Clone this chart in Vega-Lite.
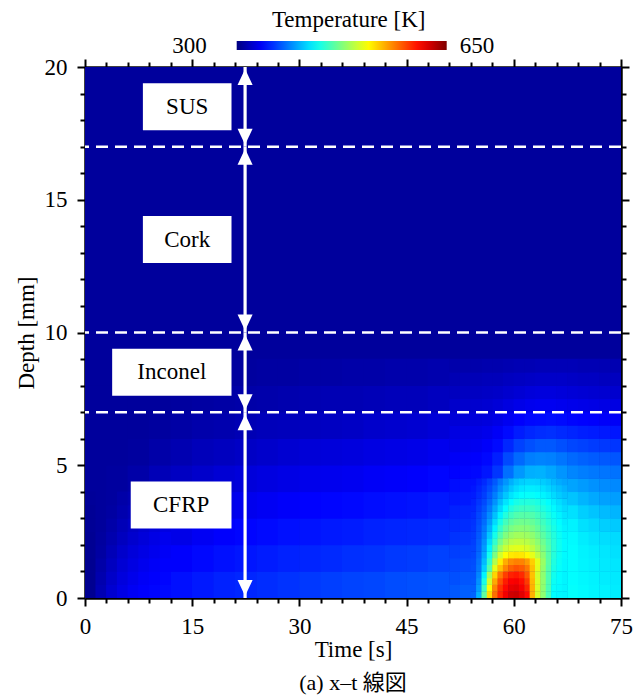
{
"$schema": "https://vega.github.io/schema/vega-lite/v6.json",
"width": 536, "height": 531,
"autosize": "none",
"padding": {"left": 85, "top": 67, "right": 23, "bottom": 102},
"background": "white",
"config": {
 "view": {"stroke": null},
 "axis": {"domainColor": "black", "domainWidth": 2.5, "tickColor": "black", "tickWidth": 2, "labelFont": "Liberation Serif", "labelFontSize": 23, "labelColor": "black", "titleFont": "Liberation Serif", "titleFontSize": 23, "titleFontWeight": "normal", "titleColor": "black", "grid": false, "labelOverlap": false, "labelFlush": false}
},
"title": {"text": "(a) x–t 線図", "orient": "bottom", "font": "Liberation Serif, Noto Sans CJK JP", "fontSize": 22, "fontWeight": "normal", "color": "black", "offset": 12, "anchor": "middle"},
"datasets": {
 "base": [{"t0":0,"t1":75,"z0":0,"z1":20,"K":310}],
 "coarse": [
{"t":1.5,"z":0.5,"K":312},{"t":4.5,"z":0.5,"K":332},{"t":7.5,"z":0.5,"K":342},{"t":10.5,"z":0.5,"K":346},{"t":13.5,"z":0.5,"K":349},{"t":16.5,"z":0.5,"K":352},{"t":19.5,"z":0.5,"K":355},{"t":22.5,"z":0.5,"K":357},{"t":25.5,"z":0.5,"K":359},{"t":28.5,"z":0.5,"K":361},{"t":31.5,"z":0.5,"K":363},{"t":34.5,"z":0.5,"K":365},{"t":37.5,"z":0.5,"K":367},{"t":40.5,"z":0.5,"K":368},{"t":43.5,"z":0.5,"K":370},{"t":46.5,"z":0.5,"K":371},{"t":49.5,"z":0.5,"K":372},
{"t":1.5,"z":1.5,"K":310},{"t":4.5,"z":1.5,"K":324},{"t":7.5,"z":1.5,"K":334},{"t":10.5,"z":1.5,"K":339},{"t":13.5,"z":1.5,"K":343},{"t":16.5,"z":1.5,"K":346},{"t":19.5,"z":1.5,"K":349},{"t":22.5,"z":1.5,"K":351},{"t":25.5,"z":1.5,"K":353},{"t":28.5,"z":1.5,"K":355},{"t":31.5,"z":1.5,"K":356},{"t":34.5,"z":1.5,"K":358},{"t":37.5,"z":1.5,"K":360},{"t":40.5,"z":1.5,"K":361},{"t":43.5,"z":1.5,"K":363},{"t":46.5,"z":1.5,"K":364},{"t":49.5,"z":1.5,"K":366},
{"t":1.5,"z":2.5,"K":310},{"t":4.5,"z":2.5,"K":317},{"t":7.5,"z":2.5,"K":326},{"t":10.5,"z":2.5,"K":332},{"t":13.5,"z":2.5,"K":336},{"t":16.5,"z":2.5,"K":340},{"t":19.5,"z":2.5,"K":343},{"t":22.5,"z":2.5,"K":345},{"t":25.5,"z":2.5,"K":347},{"t":28.5,"z":2.5,"K":349},{"t":31.5,"z":2.5,"K":350},{"t":34.5,"z":2.5,"K":352},{"t":37.5,"z":2.5,"K":353},{"t":40.5,"z":2.5,"K":355},{"t":43.5,"z":2.5,"K":356},{"t":46.5,"z":2.5,"K":357},{"t":49.5,"z":2.5,"K":358},
{"t":1.5,"z":3.5,"K":310},{"t":4.5,"z":3.5,"K":313},{"t":7.5,"z":3.5,"K":319},{"t":10.5,"z":3.5,"K":325},{"t":13.5,"z":3.5,"K":329},{"t":16.5,"z":3.5,"K":333},{"t":19.5,"z":3.5,"K":336},{"t":22.5,"z":3.5,"K":338},{"t":25.5,"z":3.5,"K":340},{"t":28.5,"z":3.5,"K":342},{"t":31.5,"z":3.5,"K":344},{"t":34.5,"z":3.5,"K":345},{"t":37.5,"z":3.5,"K":346},{"t":40.5,"z":3.5,"K":348},{"t":43.5,"z":3.5,"K":349},{"t":46.5,"z":3.5,"K":350},{"t":49.5,"z":3.5,"K":352},
{"t":1.5,"z":4.5,"K":310},{"t":4.5,"z":4.5,"K":311},{"t":7.5,"z":4.5,"K":314},{"t":10.5,"z":4.5,"K":319},{"t":13.5,"z":4.5,"K":323},{"t":16.5,"z":4.5,"K":326},{"t":19.5,"z":4.5,"K":329},{"t":22.5,"z":4.5,"K":331},{"t":25.5,"z":4.5,"K":333},{"t":28.5,"z":4.5,"K":335},{"t":31.5,"z":4.5,"K":337},{"t":34.5,"z":4.5,"K":338},{"t":37.5,"z":4.5,"K":339},{"t":40.5,"z":4.5,"K":341},{"t":43.5,"z":4.5,"K":342},{"t":46.5,"z":4.5,"K":343},{"t":49.5,"z":4.5,"K":345},
{"t":1.5,"z":5.5,"K":310},{"t":4.5,"z":5.5,"K":310},{"t":7.5,"z":5.5,"K":311},{"t":10.5,"z":5.5,"K":314},{"t":13.5,"z":5.5,"K":317},{"t":16.5,"z":5.5,"K":320},{"t":19.5,"z":5.5,"K":322},{"t":22.5,"z":5.5,"K":324},{"t":25.5,"z":5.5,"K":326},{"t":28.5,"z":5.5,"K":328},{"t":31.5,"z":5.5,"K":330},{"t":34.5,"z":5.5,"K":331},{"t":37.5,"z":5.5,"K":332},{"t":40.5,"z":5.5,"K":334},{"t":43.5,"z":5.5,"K":335},{"t":46.5,"z":5.5,"K":336},{"t":49.5,"z":5.5,"K":338},
{"t":1.5,"z":6.5,"K":310},{"t":4.5,"z":6.5,"K":310},{"t":7.5,"z":6.5,"K":310},{"t":10.5,"z":6.5,"K":311},{"t":13.5,"z":6.5,"K":313},{"t":16.5,"z":6.5,"K":315},{"t":19.5,"z":6.5,"K":316},{"t":22.5,"z":6.5,"K":318},{"t":25.5,"z":6.5,"K":320},{"t":28.5,"z":6.5,"K":321},{"t":31.5,"z":6.5,"K":322},{"t":34.5,"z":6.5,"K":323},{"t":37.5,"z":6.5,"K":324},{"t":40.5,"z":6.5,"K":326},{"t":43.5,"z":6.5,"K":327},{"t":46.5,"z":6.5,"K":328},{"t":49.5,"z":6.5,"K":330},
{"t":1.5,"z":7.5,"K":310},{"t":4.5,"z":7.5,"K":310},{"t":7.5,"z":7.5,"K":310},{"t":10.5,"z":7.5,"K":310},{"t":13.5,"z":7.5,"K":311},{"t":16.5,"z":7.5,"K":312},{"t":19.5,"z":7.5,"K":313},{"t":22.5,"z":7.5,"K":314},{"t":25.5,"z":7.5,"K":315},{"t":28.5,"z":7.5,"K":316},{"t":31.5,"z":7.5,"K":317},{"t":34.5,"z":7.5,"K":318},{"t":37.5,"z":7.5,"K":318},{"t":40.5,"z":7.5,"K":319},{"t":43.5,"z":7.5,"K":320},{"t":46.5,"z":7.5,"K":320},{"t":49.5,"z":7.5,"K":322},
{"t":1.5,"z":8.5,"K":310},{"t":4.5,"z":8.5,"K":310},{"t":7.5,"z":8.5,"K":310},{"t":10.5,"z":8.5,"K":310},{"t":13.5,"z":8.5,"K":310},{"t":16.5,"z":8.5,"K":310},{"t":19.5,"z":8.5,"K":311},{"t":22.5,"z":8.5,"K":311},{"t":25.5,"z":8.5,"K":312},{"t":28.5,"z":8.5,"K":312},{"t":31.5,"z":8.5,"K":313},{"t":34.5,"z":8.5,"K":313},{"t":37.5,"z":8.5,"K":314},{"t":40.5,"z":8.5,"K":314},{"t":43.5,"z":8.5,"K":315},{"t":46.5,"z":8.5,"K":315},{"t":49.5,"z":8.5,"K":316}
 ],
 "mid": [
{"t":0.75,"z":0.25,"K":306},{"t":2.25,"z":0.25,"K":318},{"t":3.75,"z":0.25,"K":328},{"t":5.25,"z":0.25,"K":335},{"t":6.75,"z":0.25,"K":340},{"t":8.25,"z":0.25,"K":343},{"t":9.75,"z":0.25,"K":345},{"t":11.25,"z":0.25,"K":347},
{"t":0.75,"z":0.75,"K":306},{"t":2.25,"z":0.75,"K":316},{"t":3.75,"z":0.75,"K":325},{"t":5.25,"z":0.75,"K":332},{"t":6.75,"z":0.75,"K":337},{"t":8.25,"z":0.75,"K":341},{"t":9.75,"z":0.75,"K":343},{"t":11.25,"z":0.75,"K":345},
{"t":0.75,"z":1.25,"K":306},{"t":2.25,"z":1.25,"K":314},{"t":3.75,"z":1.25,"K":322},{"t":5.25,"z":1.25,"K":329},{"t":6.75,"z":1.25,"K":334},{"t":8.25,"z":1.25,"K":338},{"t":9.75,"z":1.25,"K":341},{"t":11.25,"z":1.25,"K":343},
{"t":0.75,"z":1.75,"K":307},{"t":2.25,"z":1.75,"K":312},{"t":3.75,"z":1.75,"K":319},{"t":5.25,"z":1.75,"K":326},{"t":6.75,"z":1.75,"K":331},{"t":8.25,"z":1.75,"K":335},{"t":9.75,"z":1.75,"K":338},{"t":11.25,"z":1.75,"K":341},
{"t":0.75,"z":2.25,"K":307},{"t":2.25,"z":2.25,"K":311},{"t":3.75,"z":2.25,"K":316},{"t":5.25,"z":2.25,"K":322},{"t":6.75,"z":2.25,"K":327},{"t":8.25,"z":2.25,"K":331},{"t":9.75,"z":2.25,"K":335},{"t":11.25,"z":2.25,"K":338},
{"t":0.75,"z":2.75,"K":308},{"t":2.25,"z":2.75,"K":310},{"t":3.75,"z":2.75,"K":314},{"t":5.25,"z":2.75,"K":319},{"t":6.75,"z":2.75,"K":324},{"t":8.25,"z":2.75,"K":328},{"t":9.75,"z":2.75,"K":331},{"t":11.25,"z":2.75,"K":334},
{"t":0.75,"z":3.25,"K":308},{"t":2.25,"z":3.25,"K":310},{"t":3.75,"z":3.25,"K":312},{"t":5.25,"z":3.25,"K":316},{"t":6.75,"z":3.25,"K":320},{"t":8.25,"z":3.25,"K":324},{"t":9.75,"z":3.25,"K":328},{"t":11.25,"z":3.25,"K":331},
{"t":0.75,"z":3.75,"K":309},{"t":2.25,"z":3.75,"K":310},{"t":3.75,"z":3.75,"K":311},{"t":5.25,"z":3.75,"K":314},{"t":6.75,"z":3.75,"K":317},{"t":8.25,"z":3.75,"K":321},{"t":9.75,"z":3.75,"K":324},{"t":11.25,"z":3.75,"K":327},
{"t":51.75,"z":0.25,"K":374},{"t":53.25,"z":0.25,"K":376},{"t":68.25,"z":0.25,"K":432},{"t":69.75,"z":0.25,"K":430},{"t":71.25,"z":0.25,"K":428},{"t":72.75,"z":0.25,"K":427},{"t":74.25,"z":0.25,"K":425},
{"t":51.75,"z":0.75,"K":371},{"t":53.25,"z":0.75,"K":373},{"t":68.25,"z":0.75,"K":431},{"t":69.75,"z":0.75,"K":429},{"t":71.25,"z":0.75,"K":427},{"t":72.75,"z":0.75,"K":425},{"t":74.25,"z":0.75,"K":424},
{"t":51.75,"z":1.25,"K":368},{"t":53.25,"z":1.25,"K":369},{"t":68.25,"z":1.25,"K":431},{"t":69.75,"z":1.25,"K":428},{"t":71.25,"z":1.25,"K":426},{"t":72.75,"z":1.25,"K":424},{"t":74.25,"z":1.25,"K":423},
{"t":51.75,"z":1.75,"K":365},{"t":53.25,"z":1.75,"K":366},{"t":68.25,"z":1.75,"K":431},{"t":69.75,"z":1.75,"K":427},{"t":71.25,"z":1.75,"K":425},{"t":72.75,"z":1.75,"K":423},{"t":74.25,"z":1.75,"K":421},
{"t":51.75,"z":2.25,"K":361},{"t":53.25,"z":2.25,"K":362},{"t":68.25,"z":2.25,"K":430},{"t":69.75,"z":2.25,"K":425},{"t":71.25,"z":2.25,"K":422},{"t":72.75,"z":2.25,"K":420},{"t":74.25,"z":2.25,"K":419},
{"t":51.75,"z":2.75,"K":358},{"t":53.25,"z":2.75,"K":359},{"t":68.25,"z":2.75,"K":427},{"t":69.75,"z":2.75,"K":421},{"t":71.25,"z":2.75,"K":418},{"t":72.75,"z":2.75,"K":415},{"t":74.25,"z":2.75,"K":413},
{"t":51.75,"z":3.25,"K":355},{"t":53.25,"z":3.25,"K":356},{"t":68.25,"z":3.25,"K":421},{"t":69.75,"z":3.25,"K":415},{"t":71.25,"z":3.25,"K":411},{"t":72.75,"z":3.25,"K":408},{"t":74.25,"z":3.25,"K":406},
{"t":51.75,"z":3.75,"K":351},{"t":53.25,"z":3.75,"K":352},{"t":68.25,"z":3.75,"K":411},{"t":69.75,"z":3.75,"K":406},{"t":71.25,"z":3.75,"K":402},{"t":72.75,"z":3.75,"K":399},{"t":74.25,"z":3.75,"K":398},
{"t":51.75,"z":4.25,"K":348},{"t":53.25,"z":4.25,"K":349},{"t":68.25,"z":4.25,"K":400},{"t":69.75,"z":4.25,"K":397},{"t":71.25,"z":4.25,"K":394},{"t":72.75,"z":4.25,"K":392},{"t":74.25,"z":4.25,"K":391},
{"t":51.75,"z":4.75,"K":344},{"t":53.25,"z":4.75,"K":345},{"t":54.75,"z":4.75,"K":346},{"t":56.25,"z":4.75,"K":351},{"t":57.75,"z":4.75,"K":362},{"t":59.25,"z":4.75,"K":382},{"t":60.75,"z":4.75,"K":396},{"t":62.25,"z":4.75,"K":404},{"t":63.75,"z":4.75,"K":405},{"t":65.25,"z":4.75,"K":401},{"t":66.75,"z":4.75,"K":395},{"t":68.25,"z":4.75,"K":390},{"t":69.75,"z":4.75,"K":387},{"t":71.25,"z":4.75,"K":385},{"t":72.75,"z":4.75,"K":384},{"t":74.25,"z":4.75,"K":383},
{"t":51.75,"z":5.25,"K":341},{"t":53.25,"z":5.25,"K":342},{"t":54.75,"z":5.25,"K":343},{"t":56.25,"z":5.25,"K":346},{"t":57.75,"z":5.25,"K":354},{"t":59.25,"z":5.25,"K":369},{"t":60.75,"z":5.25,"K":380},{"t":62.25,"z":5.25,"K":387},{"t":63.75,"z":5.25,"K":389},{"t":65.25,"z":5.25,"K":388},{"t":66.75,"z":5.25,"K":384},{"t":68.25,"z":5.25,"K":380},{"t":69.75,"z":5.25,"K":377},{"t":71.25,"z":5.25,"K":375},{"t":72.75,"z":5.25,"K":374},{"t":74.25,"z":5.25,"K":373},
{"t":51.75,"z":5.75,"K":337},{"t":53.25,"z":5.75,"K":338},{"t":54.75,"z":5.75,"K":339},{"t":56.25,"z":5.75,"K":342},{"t":57.75,"z":5.75,"K":347},{"t":59.25,"z":5.75,"K":357},{"t":60.75,"z":5.75,"K":366},{"t":62.25,"z":5.75,"K":371},{"t":63.75,"z":5.75,"K":374},{"t":65.25,"z":5.75,"K":374},{"t":66.75,"z":5.75,"K":371},{"t":68.25,"z":5.75,"K":368},{"t":69.75,"z":5.75,"K":366},{"t":71.25,"z":5.75,"K":364},{"t":72.75,"z":5.75,"K":363},{"t":74.25,"z":5.75,"K":362},
{"t":51.75,"z":6.25,"K":334},{"t":53.25,"z":6.25,"K":335},{"t":54.75,"z":6.25,"K":335},{"t":56.25,"z":6.25,"K":337},{"t":57.75,"z":6.25,"K":341},{"t":59.25,"z":6.25,"K":347},{"t":60.75,"z":6.25,"K":353},{"t":62.25,"z":6.25,"K":357},{"t":63.75,"z":6.25,"K":359},{"t":65.25,"z":6.25,"K":360},{"t":66.75,"z":6.25,"K":358},{"t":68.25,"z":6.25,"K":356},{"t":69.75,"z":6.25,"K":354},{"t":71.25,"z":6.25,"K":353},{"t":72.75,"z":6.25,"K":352},{"t":74.25,"z":6.25,"K":351},
{"t":51.75,"z":6.75,"K":330},{"t":53.25,"z":6.75,"K":331},{"t":54.75,"z":6.75,"K":331},{"t":56.25,"z":6.75,"K":332},{"t":57.75,"z":6.75,"K":335},{"t":59.25,"z":6.75,"K":339},{"t":60.75,"z":6.75,"K":343},{"t":62.25,"z":6.75,"K":346},{"t":63.75,"z":6.75,"K":347},{"t":65.25,"z":6.75,"K":348},{"t":66.75,"z":6.75,"K":347},{"t":68.25,"z":6.75,"K":345},{"t":69.75,"z":6.75,"K":344},{"t":71.25,"z":6.75,"K":343},{"t":72.75,"z":6.75,"K":342},{"t":74.25,"z":6.75,"K":341},
{"t":51.75,"z":7.25,"K":326},{"t":53.25,"z":7.25,"K":327},{"t":54.75,"z":7.25,"K":327},{"t":56.25,"z":7.25,"K":328},{"t":57.75,"z":7.25,"K":330},{"t":59.25,"z":7.25,"K":333},{"t":60.75,"z":7.25,"K":336},{"t":62.25,"z":7.25,"K":338},{"t":63.75,"z":7.25,"K":339},{"t":65.25,"z":7.25,"K":339},{"t":66.75,"z":7.25,"K":338},{"t":68.25,"z":7.25,"K":337},{"t":69.75,"z":7.25,"K":336},{"t":71.25,"z":7.25,"K":335},{"t":72.75,"z":7.25,"K":335},{"t":74.25,"z":7.25,"K":334},
{"t":51.75,"z":7.75,"K":322},{"t":53.25,"z":7.75,"K":323},{"t":54.75,"z":7.75,"K":323},{"t":56.25,"z":7.75,"K":324},{"t":57.75,"z":7.75,"K":325},{"t":59.25,"z":7.75,"K":327},{"t":60.75,"z":7.75,"K":329},{"t":62.25,"z":7.75,"K":331},{"t":63.75,"z":7.75,"K":332},{"t":65.25,"z":7.75,"K":332},{"t":66.75,"z":7.75,"K":331},{"t":68.25,"z":7.75,"K":330},{"t":69.75,"z":7.75,"K":329},{"t":71.25,"z":7.75,"K":328},{"t":72.75,"z":7.75,"K":328},{"t":74.25,"z":7.75,"K":327},
{"t":51.75,"z":8.25,"K":318},{"t":53.25,"z":8.25,"K":319},{"t":54.75,"z":8.25,"K":319},{"t":56.25,"z":8.25,"K":320},{"t":57.75,"z":8.25,"K":320},{"t":59.25,"z":8.25,"K":322},{"t":60.75,"z":8.25,"K":323},{"t":62.25,"z":8.25,"K":324},{"t":63.75,"z":8.25,"K":325},{"t":65.25,"z":8.25,"K":325},{"t":66.75,"z":8.25,"K":325},{"t":68.25,"z":8.25,"K":324},{"t":69.75,"z":8.25,"K":323},{"t":71.25,"z":8.25,"K":323},{"t":72.75,"z":8.25,"K":322},{"t":74.25,"z":8.25,"K":322},
{"t":51.75,"z":8.75,"K":315},{"t":53.25,"z":8.75,"K":315},{"t":54.75,"z":8.75,"K":315},{"t":56.25,"z":8.75,"K":316},{"t":57.75,"z":8.75,"K":316},{"t":59.25,"z":8.75,"K":317},{"t":60.75,"z":8.75,"K":318},{"t":62.25,"z":8.75,"K":318},{"t":63.75,"z":8.75,"K":319},{"t":65.25,"z":8.75,"K":319},{"t":66.75,"z":8.75,"K":319},{"t":68.25,"z":8.75,"K":319},{"t":69.75,"z":8.75,"K":318},{"t":71.25,"z":8.75,"K":318},{"t":72.75,"z":8.75,"K":318},{"t":74.25,"z":8.75,"K":317}
 ],
 "fine": [
{"t":54.375,"z":0.125,"K":378},{"t":55.125,"z":0.125,"K":405},{"t":55.875,"z":0.125,"K":464},{"t":56.625,"z":0.125,"K":530},{"t":57.375,"z":0.125,"K":568},{"t":58.125,"z":0.125,"K":594},{"t":58.875,"z":0.125,"K":611},{"t":59.625,"z":0.125,"K":622},{"t":60.375,"z":0.125,"K":624},{"t":61.125,"z":0.125,"K":616},{"t":61.875,"z":0.125,"K":603},{"t":62.625,"z":0.125,"K":545},{"t":63.375,"z":0.125,"K":504},{"t":64.125,"z":0.125,"K":480},{"t":64.875,"z":0.125,"K":456},{"t":65.625,"z":0.125,"K":431},{"t":66.375,"z":0.125,"K":429},{"t":67.125,"z":0.125,"K":428},
{"t":54.375,"z":0.375,"K":376},{"t":55.125,"z":0.375,"K":398},{"t":55.875,"z":0.375,"K":452},{"t":56.625,"z":0.375,"K":518},{"t":57.375,"z":0.375,"K":560},{"t":58.125,"z":0.375,"K":588},{"t":58.875,"z":0.375,"K":604},{"t":59.625,"z":0.375,"K":614},{"t":60.375,"z":0.375,"K":616},{"t":61.125,"z":0.375,"K":609},{"t":61.875,"z":0.375,"K":594},{"t":62.625,"z":0.375,"K":545},{"t":63.375,"z":0.375,"K":505},{"t":64.125,"z":0.375,"K":480},{"t":64.875,"z":0.375,"K":457},{"t":65.625,"z":0.375,"K":433},{"t":66.375,"z":0.375,"K":430},{"t":67.125,"z":0.375,"K":428},
{"t":54.375,"z":0.625,"K":374},{"t":55.125,"z":0.625,"K":394},{"t":55.875,"z":0.625,"K":440},{"t":56.625,"z":0.625,"K":503},{"t":57.375,"z":0.625,"K":548},{"t":58.125,"z":0.625,"K":578},{"t":58.875,"z":0.625,"K":597},{"t":59.625,"z":0.625,"K":607},{"t":60.375,"z":0.625,"K":609},{"t":61.125,"z":0.625,"K":602},{"t":61.875,"z":0.625,"K":586},{"t":62.625,"z":0.625,"K":543},{"t":63.375,"z":0.625,"K":505},{"t":64.125,"z":0.625,"K":481},{"t":64.875,"z":0.625,"K":458},{"t":65.625,"z":0.625,"K":435},{"t":66.375,"z":0.625,"K":431},{"t":67.125,"z":0.625,"K":428},
{"t":54.375,"z":0.875,"K":373},{"t":55.125,"z":0.875,"K":390},{"t":55.875,"z":0.875,"K":428},{"t":56.625,"z":0.875,"K":487},{"t":57.375,"z":0.875,"K":533},{"t":58.125,"z":0.875,"K":565},{"t":58.875,"z":0.875,"K":585},{"t":59.625,"z":0.875,"K":595},{"t":60.375,"z":0.875,"K":598},{"t":61.125,"z":0.875,"K":592},{"t":61.875,"z":0.875,"K":576},{"t":62.625,"z":0.875,"K":540},{"t":63.375,"z":0.875,"K":503},{"t":64.125,"z":0.875,"K":480},{"t":64.875,"z":0.875,"K":458},{"t":65.625,"z":0.875,"K":437},{"t":66.375,"z":0.875,"K":431},{"t":67.125,"z":0.875,"K":428},
{"t":54.375,"z":1.125,"K":371},{"t":55.125,"z":1.125,"K":385},{"t":55.875,"z":1.125,"K":415},{"t":56.625,"z":1.125,"K":460},{"t":57.375,"z":1.125,"K":510},{"t":58.125,"z":1.125,"K":540},{"t":58.875,"z":1.125,"K":560},{"t":59.625,"z":1.125,"K":573},{"t":60.375,"z":1.125,"K":578},{"t":61.125,"z":1.125,"K":575},{"t":61.875,"z":1.125,"K":565},{"t":62.625,"z":1.125,"K":540},{"t":63.375,"z":1.125,"K":508},{"t":64.125,"z":1.125,"K":482},{"t":64.875,"z":1.125,"K":460},{"t":65.625,"z":1.125,"K":440},{"t":66.375,"z":1.125,"K":433},{"t":67.125,"z":1.125,"K":429},
{"t":54.375,"z":1.375,"K":370},{"t":55.125,"z":1.375,"K":383},{"t":55.875,"z":1.375,"K":408},{"t":56.625,"z":1.375,"K":448},{"t":57.375,"z":1.375,"K":492},{"t":58.125,"z":1.375,"K":525},{"t":58.875,"z":1.375,"K":547},{"t":59.625,"z":1.375,"K":558},{"t":60.375,"z":1.375,"K":562},{"t":61.125,"z":1.375,"K":561},{"t":61.875,"z":1.375,"K":553},{"t":62.625,"z":1.375,"K":535},{"t":63.375,"z":1.375,"K":510},{"t":64.125,"z":1.375,"K":484},{"t":64.875,"z":1.375,"K":462},{"t":65.625,"z":1.375,"K":442},{"t":66.375,"z":1.375,"K":434},{"t":67.125,"z":1.375,"K":429},
{"t":54.375,"z":1.625,"K":368},{"t":55.125,"z":1.625,"K":380},{"t":55.875,"z":1.625,"K":402},{"t":56.625,"z":1.625,"K":437},{"t":57.375,"z":1.625,"K":474},{"t":58.125,"z":1.625,"K":503},{"t":58.875,"z":1.625,"K":518},{"t":59.625,"z":1.625,"K":526},{"t":60.375,"z":1.625,"K":528},{"t":61.125,"z":1.625,"K":527},{"t":61.875,"z":1.625,"K":521},{"t":62.625,"z":1.625,"K":510},{"t":63.375,"z":1.625,"K":495},{"t":64.125,"z":1.625,"K":479},{"t":64.875,"z":1.625,"K":461},{"t":65.625,"z":1.625,"K":444},{"t":66.375,"z":1.625,"K":435},{"t":67.125,"z":1.625,"K":430},
{"t":54.375,"z":1.875,"K":367},{"t":55.125,"z":1.875,"K":378},{"t":55.875,"z":1.875,"K":397},{"t":56.625,"z":1.875,"K":428},{"t":57.375,"z":1.875,"K":460},{"t":58.125,"z":1.875,"K":486},{"t":58.875,"z":1.875,"K":500},{"t":59.625,"z":1.875,"K":507},{"t":60.375,"z":1.875,"K":509},{"t":61.125,"z":1.875,"K":509},{"t":61.875,"z":1.875,"K":505},{"t":62.625,"z":1.875,"K":497},{"t":63.375,"z":1.875,"K":486},{"t":64.125,"z":1.875,"K":474},{"t":64.875,"z":1.875,"K":460},{"t":65.625,"z":1.875,"K":445},{"t":66.375,"z":1.875,"K":436},{"t":67.125,"z":1.875,"K":430},
{"t":54.375,"z":2.125,"K":365},{"t":55.125,"z":2.125,"K":376},{"t":55.875,"z":2.125,"K":393},{"t":56.625,"z":2.125,"K":420},{"t":57.375,"z":2.125,"K":448},{"t":58.125,"z":2.125,"K":472},{"t":58.875,"z":2.125,"K":487},{"t":59.625,"z":2.125,"K":494},{"t":60.375,"z":2.125,"K":497},{"t":61.125,"z":2.125,"K":497},{"t":61.875,"z":2.125,"K":494},{"t":62.625,"z":2.125,"K":488},{"t":63.375,"z":2.125,"K":479},{"t":64.125,"z":2.125,"K":469},{"t":64.875,"z":2.125,"K":457},{"t":65.625,"z":2.125,"K":445},{"t":66.375,"z":2.125,"K":436},{"t":67.125,"z":2.125,"K":430},
{"t":54.375,"z":2.375,"K":364},{"t":55.125,"z":2.375,"K":374},{"t":55.875,"z":2.375,"K":389},{"t":56.625,"z":2.375,"K":412},{"t":57.375,"z":2.375,"K":438},{"t":58.125,"z":2.375,"K":460},{"t":58.875,"z":2.375,"K":475},{"t":59.625,"z":2.375,"K":483},{"t":60.375,"z":2.375,"K":487},{"t":61.125,"z":2.375,"K":487},{"t":61.875,"z":2.375,"K":485},{"t":62.625,"z":2.375,"K":480},{"t":63.375,"z":2.375,"K":472},{"t":64.125,"z":2.375,"K":463},{"t":64.875,"z":2.375,"K":453},{"t":65.625,"z":2.375,"K":443},{"t":66.375,"z":2.375,"K":435},{"t":67.125,"z":2.375,"K":429},
{"t":54.375,"z":2.625,"K":362},{"t":55.125,"z":2.625,"K":372},{"t":55.875,"z":2.625,"K":385},{"t":56.625,"z":2.625,"K":405},{"t":57.375,"z":2.625,"K":428},{"t":58.125,"z":2.625,"K":449},{"t":58.875,"z":2.625,"K":464},{"t":59.625,"z":2.625,"K":473},{"t":60.375,"z":2.625,"K":477},{"t":61.125,"z":2.625,"K":478},{"t":61.875,"z":2.625,"K":477},{"t":62.625,"z":2.625,"K":473},{"t":63.375,"z":2.625,"K":466},{"t":64.125,"z":2.625,"K":458},{"t":64.875,"z":2.625,"K":449},{"t":65.625,"z":2.625,"K":440},{"t":66.375,"z":2.625,"K":433},{"t":67.125,"z":2.625,"K":427},
{"t":54.375,"z":2.875,"K":361},{"t":55.125,"z":2.875,"K":370},{"t":55.875,"z":2.875,"K":381},{"t":56.625,"z":2.875,"K":398},{"t":57.375,"z":2.875,"K":419},{"t":58.125,"z":2.875,"K":439},{"t":58.875,"z":2.875,"K":454},{"t":59.625,"z":2.875,"K":463},{"t":60.375,"z":2.875,"K":468},{"t":61.125,"z":2.875,"K":470},{"t":61.875,"z":2.875,"K":469},{"t":62.625,"z":2.875,"K":466},{"t":63.375,"z":2.875,"K":460},{"t":64.125,"z":2.875,"K":453},{"t":64.875,"z":2.875,"K":445},{"t":65.625,"z":2.875,"K":437},{"t":66.375,"z":2.875,"K":431},{"t":67.125,"z":2.875,"K":425},
{"t":54.375,"z":3.125,"K":359},{"t":55.125,"z":3.125,"K":368},{"t":55.875,"z":3.125,"K":377},{"t":56.625,"z":3.125,"K":392},{"t":57.375,"z":3.125,"K":410},{"t":58.125,"z":3.125,"K":428},{"t":58.875,"z":3.125,"K":443},{"t":59.625,"z":3.125,"K":453},{"t":60.375,"z":3.125,"K":459},{"t":61.125,"z":3.125,"K":461},{"t":61.875,"z":3.125,"K":461},{"t":62.625,"z":3.125,"K":459},{"t":63.375,"z":3.125,"K":454},{"t":64.125,"z":3.125,"K":448},{"t":64.875,"z":3.125,"K":441},{"t":65.625,"z":3.125,"K":434},{"t":66.375,"z":3.125,"K":428},{"t":67.125,"z":3.125,"K":422},
{"t":54.375,"z":3.375,"K":357},{"t":55.125,"z":3.375,"K":365},{"t":55.875,"z":3.375,"K":373},{"t":56.625,"z":3.375,"K":386},{"t":57.375,"z":3.375,"K":402},{"t":58.125,"z":3.375,"K":418},{"t":58.875,"z":3.375,"K":432},{"t":59.625,"z":3.375,"K":443},{"t":60.375,"z":3.375,"K":449},{"t":61.125,"z":3.375,"K":452},{"t":61.875,"z":3.375,"K":452},{"t":62.625,"z":3.375,"K":451},{"t":63.375,"z":3.375,"K":447},{"t":64.125,"z":3.375,"K":442},{"t":64.875,"z":3.375,"K":436},{"t":65.625,"z":3.375,"K":430},{"t":66.375,"z":3.375,"K":424},{"t":67.125,"z":3.375,"K":419},
{"t":54.375,"z":3.625,"K":355},{"t":55.125,"z":3.625,"K":362},{"t":55.875,"z":3.625,"K":369},{"t":56.625,"z":3.625,"K":380},{"t":57.375,"z":3.625,"K":394},{"t":58.125,"z":3.625,"K":409},{"t":58.875,"z":3.625,"K":422},{"t":59.625,"z":3.625,"K":432},{"t":60.375,"z":3.625,"K":439},{"t":61.125,"z":3.625,"K":442},{"t":61.875,"z":3.625,"K":443},{"t":62.625,"z":3.625,"K":443},{"t":63.375,"z":3.625,"K":440},{"t":64.125,"z":3.625,"K":436},{"t":64.875,"z":3.625,"K":431},{"t":65.625,"z":3.625,"K":425},{"t":66.375,"z":3.625,"K":420},{"t":67.125,"z":3.625,"K":415},
{"t":54.375,"z":3.875,"K":353},{"t":55.125,"z":3.875,"K":359},{"t":55.875,"z":3.875,"K":365},{"t":56.625,"z":3.875,"K":375},{"t":57.375,"z":3.875,"K":387},{"t":58.125,"z":3.875,"K":400},{"t":58.875,"z":3.875,"K":412},{"t":59.625,"z":3.875,"K":422},{"t":60.375,"z":3.875,"K":428},{"t":61.125,"z":3.875,"K":432},{"t":61.875,"z":3.875,"K":433},{"t":62.625,"z":3.875,"K":433},{"t":63.375,"z":3.875,"K":431},{"t":64.125,"z":3.875,"K":428},{"t":64.875,"z":3.875,"K":424},{"t":65.625,"z":3.875,"K":419},{"t":66.375,"z":3.875,"K":414},{"t":67.125,"z":3.875,"K":410},
{"t":54.375,"z":4.125,"K":351},{"t":55.125,"z":4.125,"K":356},{"t":55.875,"z":4.125,"K":362},{"t":56.625,"z":4.125,"K":370},{"t":57.375,"z":4.125,"K":380},{"t":58.125,"z":4.125,"K":392},{"t":58.875,"z":4.125,"K":403},{"t":59.625,"z":4.125,"K":412},{"t":60.375,"z":4.125,"K":419},{"t":61.125,"z":4.125,"K":423},{"t":61.875,"z":4.125,"K":425},{"t":62.625,"z":4.125,"K":425},{"t":63.375,"z":4.125,"K":424},{"t":64.125,"z":4.125,"K":421},{"t":64.875,"z":4.125,"K":417},{"t":65.625,"z":4.125,"K":413},{"t":66.375,"z":4.125,"K":409},{"t":67.125,"z":4.125,"K":405},
{"t":54.375,"z":4.375,"K":349},{"t":55.125,"z":4.375,"K":353},{"t":55.875,"z":4.375,"K":358},{"t":56.625,"z":4.375,"K":365},{"t":57.375,"z":4.375,"K":374},{"t":58.125,"z":4.375,"K":385},{"t":58.875,"z":4.375,"K":395},{"t":59.625,"z":4.375,"K":404},{"t":60.375,"z":4.375,"K":411},{"t":61.125,"z":4.375,"K":415},{"t":61.875,"z":4.375,"K":417},{"t":62.625,"z":4.375,"K":417},{"t":63.375,"z":4.375,"K":416},{"t":64.125,"z":4.375,"K":414},{"t":64.875,"z":4.375,"K":411},{"t":65.625,"z":4.375,"K":407},{"t":66.375,"z":4.375,"K":403},{"t":67.125,"z":4.375,"K":400}
 ],
 "layers": [
  {"name":"SUS","bottom":17,"top":20,"mid":18.5,"boxLeft":8.1,"boxRight":20.5,"boxMid":14.3},
  {"name":"Cork","bottom":10,"top":17,"mid":13.5,"boxLeft":8.1,"boxRight":20.5,"boxMid":14.3},
  {"name":"Inconel","bottom":7,"top":10,"mid":8.5,"boxLeft":3.8,"boxRight":20.5,"boxMid":12.15},
  {"name":"CFRP","bottom":0,"top":7,"mid":3.5,"boxLeft":6.4,"boxRight":20.5,"boxMid":13.45}
 ]
},
"layer": [
 {
  "data": {"name": "base"},
  "mark": {"type": "rect", "clip": true},
  "encoding": {
   "x": {"field": "t0", "type": "quantitative", "scale": {"domain": [0, 75], "nice": false, "zero": false},
    "axis": {"orient": "bottom", "title": "Time [s]", "values": [0,3,6,9,12,15,18,21,24,27,30,33,36,39,42,45,48,51,54,57,60,63,66,69,72,75],
     "labelExpr": "datum.value % 15 === 0 ? datum.label : ''",
     "tickSize": {"condition": {"test": "datum.value % 15 === 0", "value": 8}, "value": 5},
     "labelPadding": 9, "titlePadding": 0}},
   "x2": {"field": "t1"},
   "y": {"field": "z0", "type": "quantitative", "scale": {"domain": [0, 20], "nice": false, "zero": false},
    "axis": {"orient": "left", "title": "Depth [mm]", "values": [0,1,2,3,4,5,6,7,8,9,10,11,12,13,14,15,16,17,18,19,20],
     "labelExpr": "datum.value % 5 === 0 ? datum.label : ''",
     "tickSize": {"condition": {"test": "datum.value % 5 === 0", "value": 8}, "value": 5},
     "labelPadding": 10, "titlePadding": 6}},
   "y2": {"field": "z1"},
   "color": {"field": "K", "type": "quantitative",
    "scale": {"type": "linear", "domain": [300, 343.75, 387.5, 431.25, 475, 518.75, 562.5, 606.25, 650], "range": ["#00007f", "#0000ff", "#007fff", "#00ffff", "#7fff7f", "#ffff00", "#ff7f00", "#ff0000", "#7f0000"], "interpolate": "rgb", "clamp": true},
    "legend": {"title": "Temperature [K]", "orient": "none", "legendX": 151.7, "legendY": -58, "direction": "horizontal", "type": "gradient",
     "gradientLength": 210, "gradientThickness": 9, "gradientStrokeWidth": 0, "values": [300, 650], "padding": 0,
     "titleFont": "Liberation Serif", "titleFontSize": 23, "titleFontWeight": "normal", "titleColor": "black", "titleAnchor": "middle", "titlePadding": 9,
     "labelFont": "Liberation Serif", "labelFontSize": 23, "labelColor": "black", "labelOverlap": false,
     "encode": {
      "title": {"update": {"dx": {"value": 7}}},
      "labels": {"update": {"align": {"signal": "datum.value <= 300 ? 'right' : 'left'"}, "dx": {"signal": "datum.value <= 300 ? -30 : 13"}, "y": {"value": 4.5}, "baseline": {"value": "middle"}}}}}}
  }
 },
 {
  "data": {"name": "coarse"},
  "mark": {"type": "rect", "width": 22, "height": 27.2, "clip": true},
  "encoding": {
   "x": {"field": "t", "type": "quantitative", "scale": {"domain": [0, 75], "nice": false, "zero": false}, "axis": null},
   "y": {"field": "z", "type": "quantitative", "scale": {"domain": [0, 20], "nice": false, "zero": false}, "axis": null},
   "color": {"field": "K", "type": "quantitative", "legend": null}
  }
 },
 {
  "data": {"name": "mid"},
  "mark": {"type": "rect", "width": 11.2, "height": 13.8, "clip": true},
  "encoding": {
   "x": {"field": "t", "type": "quantitative", "scale": {"domain": [0, 75], "nice": false, "zero": false},
    "axis": {"orient": "top", "title": null, "labels": false, "values": [0,3,6,9,12,15,18,21,24,27,30,33,36,39,42,45,48,51,54,57,60,63,66,69,72,75],
     "tickSize": {"condition": {"test": "datum.value % 15 === 0", "value": 8}, "value": 5}}},
   "y": {"field": "z", "type": "quantitative", "scale": {"domain": [0, 20], "nice": false, "zero": false},
    "axis": {"orient": "right", "title": null, "labels": false, "values": [0,1,2,3,4,5,6,7,8,9,10,11,12,13,14,15,16,17,18,19,20],
     "tickSize": {"condition": {"test": "datum.value % 5 === 0", "value": 8}, "value": 5}}},
   "color": {"field": "K", "type": "quantitative", "legend": null}
  }
 },
 {
  "data": {"name": "fine"},
  "mark": {"type": "rect", "width": 5.8, "height": 7.0, "clip": true},
  "encoding": {
   "x": {"field": "t", "type": "quantitative", "scale": {"domain": [0, 75], "nice": false, "zero": false}, "axis": null},
   "y": {"field": "z", "type": "quantitative", "scale": {"domain": [0, 20], "nice": false, "zero": false}, "axis": null},
   "color": {"field": "K", "type": "quantitative", "legend": null}
  }
 },
 {
  "data": {"name": "layers"},
  "transform": [{"filter": "datum.bottom > 0"}],
  "mark": {"type": "rule", "color": "white", "strokeWidth": 2.5, "strokeDash": [12, 7]},
  "encoding": {
   "y": {"field": "bottom", "type": "quantitative", "scale": {"domain": [0, 20], "nice": false, "zero": false}, "axis": null}
  }
 },
 {
  "data": {"name": "layers"},
  "mark": {"type": "rule", "color": "white", "strokeWidth": 3.2},
  "encoding": {
   "x": {"datum": 22.4, "type": "quantitative", "scale": {"domain": [0, 75], "nice": false, "zero": false}, "axis": null},
   "y": {"field": "top", "type": "quantitative", "scale": {"domain": [0, 20], "nice": false, "zero": false}, "axis": null},
   "y2": {"field": "bottom"}
  }
 },
 {
  "data": {"name": "layers"},
  "mark": {"type": "point", "filled": true, "color": "white", "opacity": 1, "strokeWidth": 0, "size": 1024, "shape": "M0,0L-0.47,1L0.47,1Z", "yOffset": 2},
  "encoding": {
   "x": {"datum": 22.4, "type": "quantitative", "scale": {"domain": [0, 75], "nice": false, "zero": false}, "axis": null},
   "y": {"field": "top", "type": "quantitative", "scale": {"domain": [0, 20], "nice": false, "zero": false}, "axis": null}
  }
 },
 {
  "data": {"name": "layers"},
  "mark": {"type": "point", "filled": true, "color": "white", "opacity": 1, "strokeWidth": 0, "size": 1024, "shape": "M0,0L-0.47,-1L0.47,-1Z", "yOffset": -2},
  "encoding": {
   "x": {"datum": 22.4, "type": "quantitative", "scale": {"domain": [0, 75], "nice": false, "zero": false}, "axis": null},
   "y": {"field": "bottom", "type": "quantitative", "scale": {"domain": [0, 20], "nice": false, "zero": false}, "axis": null}
  }
 },
 {
  "data": {"name": "layers"},
  "mark": {"type": "rect", "color": "white", "height": 47},
  "encoding": {
   "x": {"field": "boxLeft", "type": "quantitative", "scale": {"domain": [0, 75], "nice": false, "zero": false}, "axis": null},
   "x2": {"field": "boxRight"},
   "y": {"field": "mid", "type": "quantitative", "scale": {"domain": [0, 20], "nice": false, "zero": false}, "axis": null}
  }
 },
 {
  "data": {"name": "layers"},
  "mark": {"type": "text", "font": "Liberation Serif", "fontSize": 23, "color": "black", "align": "center", "baseline": "middle"},
  "encoding": {
   "x": {"field": "boxMid", "type": "quantitative", "scale": {"domain": [0, 75], "nice": false, "zero": false}, "axis": null},
   "y": {"field": "mid", "type": "quantitative", "scale": {"domain": [0, 20], "nice": false, "zero": false}, "axis": null},
   "text": {"field": "name", "type": "nominal"}
  }
 }
]
}
